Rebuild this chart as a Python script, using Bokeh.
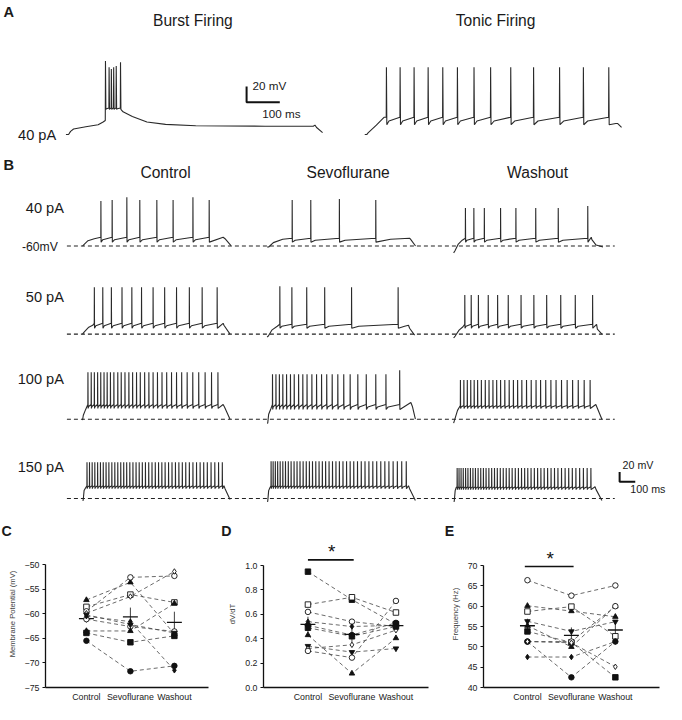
import numpy as np
from bokeh.plotting import figure
from bokeh.models import Range1d, FixedTicker, PrintfTickFormatter
from bokeh.layouts import column, row
from bokeh.embed import file_html
from bokeh.resources import INLINE
from bokeh.core.properties import value

FONT = "Liberation Sans"
INK = "#2a2a2a"

# ======================= DATA =======================
# ---- Panel A (times in ms from sweep start, voltages in mV) ----
burst_spikes = [118.5, 129.4, 136.2, 143.2, 150.9, 163.8]
burst_peaks = [31.8, 24.0, 21.8, 24.0, 25.5, 30.5]
burst_pre = [-44, -28, -28, -28, -28, -28]
burst_trough = -30
burst_onset = [(0, -62), (8, -62), (14, -58), (23, -55), (60, -52), (97, -49.5), (112, -46)]
burst_tail = [(172, -33), (200, -39), (244, -46), (300, -49), (391, -50.8), (600, -51.4),
              (745, -51.4), (750, -50), (755, -53), (773, -59.5)]

tonic_spikes = [64.7, 105.9, 148.0, 190.3, 234.4, 278.5, 328.5, 378.5, 439.1, 507.9, 586.2, 657.9, 734.4]
tonic_peak = 24
tonic_pre = -40
tonic_trough = -49.5
tonic_onset = [(0, -62), (6, -62), (10, -60), (35, -50), (58, -40)]
tonic_tail = [(756, -48), (762, -48), (773.5, -53)]

# ---- Panel B spike times (ms) ----
conditions = ["Control", "Sevoflurane", "Washout"]
currents = ["40 pA", "50 pA", "100 pA", "150 pA"]

c40 = [117, 189, 283, 366, 475, 579, 706, 810]
s40 = [160, 279, 462, 695]
w40 = [75, 129, 196, 300, 398, 525, 669, 858]
c50 = [75, 129, 184, 252, 315, 377, 451, 525, 601, 683, 765, 861]
s50 = [81, 158, 253, 368, 540, 838]
w50 = [71, 112, 158, 221, 281, 349, 431, 513, 595, 685, 778, 889]
c100 = [34, 55, 75, 96, 116, 137, 157, 178, 200, 225, 247, 271, 296, 320, 345, 369, 397, 424,
        451, 479, 508, 538, 569, 601, 634, 669, 705, 743, 784, 825, 866]
s100 = [34, 56, 78, 100, 124, 149, 173, 201, 228, 255, 286, 316, 348, 381, 416, 452, 490, 531,
        580, 634, 695, 760, 848]
w100 = [43, 65, 87, 109, 131, 153, 177, 202, 226, 251, 275, 300, 327, 355, 382, 409, 436, 466,
        496, 527, 556, 589, 622, 655, 690, 726, 761, 797, 835, 873]
c150 = [28, 44, 61, 78, 96, 114, 132, 150, 168, 187, 206, 225, 244, 263, 282, 302, 322, 342, 362,
        382, 402, 423, 444, 465, 486, 507, 528, 550, 572, 594, 616, 638, 660, 683, 706, 729, 752,
        775, 798, 822, 846, 870, 894]
s150 = [25, 38, 52, 67, 83, 100, 117, 135, 153, 172, 191, 210, 230, 250, 270, 290, 311, 332, 353,
        374, 396, 418, 440, 462, 485, 508, 531, 554, 578, 602, 626, 651, 676, 701, 727, 753, 779,
        806, 833, 861, 890]
w150 = [22, 34, 47, 61, 76, 91, 107, 123, 139, 156, 173, 190, 207, 225, 243, 261, 279, 298, 317,
        336, 355, 374, 394, 414, 434, 454, 474, 495, 516, 537, 558, 579, 601, 623, 645, 667, 690,
        713, 736, 759, 782, 806, 830, 854, 878]

# per trace: (spikes, onset points, peak mV, pre-spike mV, AHP trough mV, tail points)
b_traces = {
    (0, 0): (c40, [(0, -60), (12, -56), (35, -49), (75, -45)], [32, 34, 40, 34, 34, 34, 40, 34], -42, -52,
             [(900, -42), (912, -45), (950, -59)]),
    (0, 1): (s40, [(0, -62), (10, -62), (40, -53), (100, -46)], [34, 34, 36, 34], -44, -52,
             [(790, -46), (912, -44), (920, -47), (950, -60)]),
    (0, 2): (w40, [(0, -74), (8, -70), (30, -56), (55, -48)], [18, 18, 18, 18, 18, 18, 18, 22], -44, -52,
             [(881, -42), (885, -47), (912, -58), (956, -62)]),
    (1, 0): (c50, [(0, -60), (10, -56), (40, -46), (65, -42)], 36, -38, -48,
             [(900, -38), (905, -42), (944, -60)]),
    (1, 1): (s50, [(0, -66), (8, -64), (30, -52), (65, -44)], [38, 36, 36, 36, 36, 36], -40, -48,
             [(880, -44), (905, -42), (912, -48), (944, -62)]),
    (1, 2): (w50, [(0, -68), (10, -64), (35, -52), (60, -45)], 20, -40, -48,
             [(915, -40), (920, -50), (949, -60)]),
    (2, 0): (c100, [(0, -62), (5, -52), (20, -40)], 36, -30, -38,
             [(900, -30), (910, -36), (944, -60)]),
    (2, 1): (s100, [(0, -68), (4, -68), (10, -50), (25, -38)], [32] * 22 + [40], -30, -40,
             [(920, -26), (930, -34), (949, -60)]),
    (2, 2): (w100, [(0, -68), (6, -62), (25, -42)], 20, -32, -38,
             [(910, -30), (918, -36), (949, -60)]),
    (3, 0): (c150, [(0, -64), (4, -64), (10, -44), (20, -38)], 14, -34, -40,
             [(905, -34), (912, -40), (944, -62)]),
    (3, 1): (s150, [(0, -66), (4, -66), (10, -44), (18, -38)], 16, -34, -40,
             [(905, -34), (912, -40), (949, -64)]),
    (3, 2): (w150, [(0, -66), (4, -66), (10, -44), (16, -38)], 2, -36, -42,
             [(905, -36), (912, -42), (949, -64)]),
}

# ---- Panels C, D, E (10 cells; values at Control, Sevoflurane, Washout) ----
mp_control = [-57.2, -58.6, -59.5, -59.9, -61.1, -63.5, -63.9, -65.5, -60.5, -60.2]
mp_sevo = [-53.6, -56.1, -52.6, -56.5, -62.6, -63.5, -65.8, -71.7, -61.6, -62.2]
mp_wash = [-64.1, -57.7, -52.3, -51.4, -63.6, -57.9, -64.5, -70.6, -71.5, -63.9]
mp_markers = ["triangle", "square", "circle", "diamond", "circle", "triangle", "square", "circle",
              "diamond", "inverted_triangle"]
mp_filled = [1, 0, 0, 0, 0, 1, 1, 1, 1, 1]

dv_control = [0.95, 0.68, 0.62, 0.54, 0.51, 0.43, 0.34, 0.32, 0.30, 0.49]
dv_sevo = [0.72, 0.74, 0.54, 0.50, 0.43, 0.115, 0.29, 0.35, 0.245, 0.42]
dv_wash = [0.52, 0.615, 0.50, 0.51, 0.53, 0.405, 0.32, 0.47, 0.71, 0.50]
dv_markers = ["square", "square", "circle", "diamond", "circle", "triangle", "inverted_triangle",
              "diamond", "circle", "square"]
dv_filled = [1, 0, 0, 1, 1, 1, 1, 0, 0, 1]

fr_control = [66.4, 60.1, 58.7, 56.3, 55.2, 53.8, 51.3, 47.5, 51.3, 51.3]
fr_sevo = [62.6, 58.8, 59.9, 53.8, 50.0, 51.1, 51.3, 47.5, 42.5, 51.0]
fr_wash = [65.1, 57.4, 52.6, 56.2, 60.0, 42.5, 60.0, 51.3, 51.3, 45.1]
fr_markers = ["circle", "triangle", "square", "inverted_triangle", "triangle", "square", "circle",
              "diamond", "circle", "diamond"]
fr_filled = [0, 1, 0, 1, 1, 1, 0, 1, 1, 0]

# ======================= HELPERS =======================
def build(onset, spikes, peaks, pre, trough, tail):
    n = len(spikes)
    peaks = list(peaks) if isinstance(peaks, (list, tuple)) else [peaks] * n
    pre = list(pre) if isinstance(pre, (list, tuple)) else [pre] * n
    t = [a for a, b in onset]
    v = [b for a, b in onset]
    for i, ts in enumerate(spikes):
        if i > 0:
            isi = ts - spikes[i - 1]
            t.append(spikes[i - 1] + 2.0 + 0.15 * isi)
            v.append(trough + 0.5 * (pre[i] - trough))
        t += [ts, ts + 0.6, ts + 1.8]
        v += [pre[i], peaks[i], trough]
    t += [a for a, b in tail]
    v += [b for a, b in tail]
    return np.array(t, float), np.array(v, float)


TOP_H_REF = 552                 # reference pixels covered by the top canvas
SX = 666 / 682.0
TOP_H = 540


def fs(px):
    return f"{px * SX:.1f}px"


# ======================= TOP CANVAS (A + B + panel letters) =======================
top = figure(width=666, height=TOP_H, x_range=Range1d(0, 682), y_range=Range1d(TOP_H_REF, 0),
             output_backend="svg", toolbar_location=None, x_axis_location=None,
             y_axis_location=None, min_border=0, outline_line_color=None)
top.grid.visible = False


def txt(p, x, y, s, size, align="left", bold=False):
    p.text(x=[x], y=[y], text=[s], text_font=value(FONT), text_font_size=fs(size),
           text_align=align, text_baseline="middle", text_color="#1a1a1a",
           text_font_style="bold" if bold else "normal")


# panel A geometry
A_MS, A_MV = 0.34, 0.8        # px per ms, px per mV
A_X0 = [67, 373]
A_Y_REF, A_V_REF = 137, -62

xs_all, ys_all = [], []
t, v = build(burst_onset, burst_spikes, burst_peaks, burst_pre, burst_trough, burst_tail)
xs_all.append(A_X0[0] + t * A_MS); ys_all.append(A_Y_REF - (v - A_V_REF) * A_MV)
t, v = build(tonic_onset, tonic_spikes, tonic_peak, tonic_pre, tonic_trough, tonic_tail)
xs_all.append(A_X0[1] + t * A_MS); ys_all.append(A_Y_REF - (v - A_V_REF) * A_MV)

txt(top, 3, 12, "A", 15, bold=True)
txt(top, 197, 20, "Burst Firing", 16, "center")
txt(top, 507, 20, "Tonic Firing", 16, "center")
txt(top, 18, 137, "40 pA", 15)
# scale bar A: 20 mV / 100 ms
ax, ay = 252, 104
top.line([ax, ax, ax + 100 * A_MS], [ay - 20 * A_MV, ay, ay], line_color="#111", line_width=2)
txt(top, ax + 6, ay - 17, "20 mV", 12)
txt(top, ax + 16, ay + 12, "100 ms", 12)

# panel B geometry
B_MS, B_MV = 0.16, 0.5
B_COL_X0 = [84, 273, 464]
B_ROW_Y60 = [251, 341, 428, 509]
B_ROW_LABEL_Y = [212, 303, 387, 477]
B_TITLE_X = [169, 356, 550]

for (r, c), (spk, on, pk, pre, tr, tail) in b_traces.items():
    t, v = build(on, spk, pk, pre, tr, tail)
    xs_all.append(B_COL_X0[c] + t * B_MS)
    ys_all.append(B_ROW_Y60[r] - (v + 60) * B_MV)

top.multi_line(xs=xs_all, ys=ys_all, line_color=INK, line_width=1.1)

for r, y60 in enumerate(B_ROW_Y60):
    top.line([68, 629], [y60, y60], line_color="#222", line_width=1.1, line_dash="4 3")
    txt(top, 65, B_ROW_LABEL_Y[r], currents[r], 15, "right")

txt(top, 3, 168, "B", 15, bold=True)
for c, name in enumerate(conditions):
    txt(top, B_TITLE_X[c], 176, name, 16, "center")
txt(top, 22, 252, "-60mV", 12.5)

# scale bar B
bx, by = 634, 492
top.line([bx, bx, bx + 100 * B_MS], [by - 20 * B_MV, by, by], line_color="#111", line_width=2)
txt(top, bx + 3, by - 17, "20 mV", 11)
txt(top, bx + 11, by + 7, "100 ms", 11)

# letters of the lower panels
for letter, lx in zip(["C", "D", "E"], [1, 226, 455]):
    txt(top, lx, 542, letter, 14.5, bold=True)


# ======================= BOTTOM PANELS =======================
BOT_H = 164
FB = 15      # bottom border (x axis labels)


def panel(ctrl, sevo, wash, markers, filled, x_range, y_range, y_bounds, x_end_bound,
          frame_left, ticks, ylabel, fmt=None, sig=None):
    p = figure(width=222, height=BOT_H, x_range=Range1d(*x_range), y_range=Range1d(*y_range),
               output_backend="svg", toolbar_location=None, min_border_left=frame_left,
               min_border_right=5, min_border_top=0, min_border_bottom=FB,
               outline_line_color=None)
    p.grid.visible = False
    for ax_ in (p.xaxis[0], p.yaxis[0]):
        ax_.axis_line_width = 1.3
        ax_.axis_line_color = "#111"
        ax_.major_tick_line_color = "#111"
        ax_.minor_tick_line_color = None
        ax_.major_label_text_font = FONT
        ax_.major_label_text_font_size = "8.8px"
        ax_.major_label_text_color = "#1a1a1a"
        ax_.axis_label_text_font = FONT
        ax_.axis_label_text_font_style = "normal"
    xa = p.xaxis[0]
    xa.ticker = FixedTicker(ticks=[1, 2, 3])
    xa.major_label_overrides = {1: "Control", 2: "Sevoflurane", 3: "Washout"}
    xa.major_tick_out = 0
    xa.major_tick_in = 0
    xa.major_label_standoff = 4
    xa.bounds = (x_range[0], x_end_bound)
    ya = p.yaxis[0]
    ya.ticker = FixedTicker(ticks=ticks)
    ya.bounds = y_bounds
    ya.major_tick_out = 3
    ya.major_tick_in = 0
    ya.major_label_standoff = 3
    ya.axis_label = ylabel
    ya.axis_label_text_font_size = "7.6px"
    ya.axis_label_standoff = 5
    if fmt:
        ya.formatter = PrintfTickFormatter(format=fmt)

    vals = np.array([ctrl, sevo, wash], float)  # shape (3, n)
    n = vals.shape[1]
    p.multi_line(xs=[[1, 2, 3]] * n, ys=[list(vals[:, i]) for i in range(n)],
                 line_color="#444", line_width=0.8, line_dash="4 3")
    means = vals.mean(axis=1)
    sems = vals.std(axis=1, ddof=1) / np.sqrt(n)
    for k in range(3):
        p.line([k + 1 - 0.17, k + 1 + 0.17], [means[k], means[k]], line_color="#111", line_width=1.3)
        p.line([k + 1, k + 1], [means[k] - sems[k], means[k] + sems[k]], line_color="#111", line_width=0.8)
    for k in range(3):
        p.scatter(x=[k + 1] * n, y=list(vals[k]), marker=markers,
                  fill_color=["#111" if f else "white" for f in filled],
                  line_color="#111", line_width=0.9, size=5.5)
    if sig:
        (x0, x1, ys_, ystar_top) = sig
        p.line([x0, x1], [ys_, ys_], line_color="#111", line_width=1.6)
        p.text(x=[(x0 + x1) / 2 + 0.02], y=[ystar_top], text=["*"], text_font=value(FONT),
               text_font_size="19px", text_align="center", text_baseline="top",
               text_color="#111")
    return p


pc = panel(mp_control, mp_sevo, mp_wash, mp_markers, mp_filled,
           (0.07, 3.98), (-75, -45.1), (-75, -50), 3.77, 45,
           [-75, -70, -65, -60, -55, -50], "Membrane Potential (mV)")
pd = panel(dv_control, dv_sevo, dv_wash, dv_markers, dv_filled,
           (-0.01, 3.99), (0, 1.2055), (0, 1.0), 3.73, 41,
           [0, 0.2, 0.4, 0.6, 0.8, 1.0], "dV/dT", fmt="%.1f",
           sig=(1.0, 2.04, 1.047, 1.200))
pe = panel(fr_control, fr_sevo, fr_wash, fr_markers, fr_filled,
           (0.0, 4.05), (40, 76.17), (40, 70), 4.0, 39,
           [40, 45, 50, 55, 60, 65, 70], "Frequency (Hz)",
           sig=(0.94, 2.05, 69.76, 74.4))

layout = column(top, row(pc, pd, pe, spacing=0), spacing=0)
open("out.html", "w").write(file_html(layout, INLINE))
